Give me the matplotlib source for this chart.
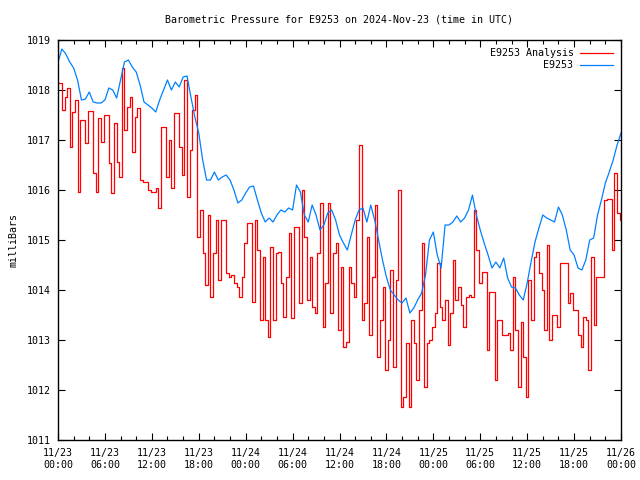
import numpy as np
import matplotlib
matplotlib.use("Agg")
import matplotlib.pyplot as plt
from matplotlib.ticker import MultipleLocator

title = "Barometric Pressure for E9253 on 2024-Nov-23 (time in UTC)"
ylabel = "milliBars"
series_names = ["E9253 Analysis", "E9253"]
tick_labels = ["11/23\n00:00", "11/23\n06:00", "11/23\n12:00", "11/23\n18:00",
               "11/24\n00:00", "11/24\n06:00", "11/24\n12:00", "11/24\n18:00",
               "11/25\n00:00", "11/25\n06:00", "11/25\n12:00", "11/25\n18:00",
               "11/26\n00:00"]

# station pressure, one value every 30 minutes (mb)
station = [
    1018.56, 1018.82, 1018.72, 1018.56, 1018.44, 1018.20, 1017.80, 1017.82,
    1017.96, 1017.76, 1017.74, 1017.74, 1017.80, 1018.04, 1018.00, 1017.84,
    1018.20, 1018.56, 1018.60, 1018.46, 1018.36, 1018.10, 1017.76, 1017.70,
    1017.64, 1017.56, 1017.80, 1018.00, 1018.20, 1018.00, 1018.16, 1018.06,
    1018.26, 1018.28, 1017.86, 1017.46, 1017.14, 1016.60, 1016.20, 1016.20,
    1016.36, 1016.20, 1016.26, 1016.30, 1016.20, 1016.00, 1015.74, 1015.80,
    1015.94, 1016.06, 1016.08, 1015.80, 1015.54, 1015.36, 1015.44, 1015.36,
    1015.50, 1015.60, 1015.56, 1015.64, 1015.60, 1016.10, 1015.96, 1015.50,
    1015.36, 1015.70, 1015.50, 1015.20, 1015.30, 1015.54, 1015.60, 1015.40,
    1015.10, 1014.94, 1014.80, 1015.10, 1015.40, 1015.60, 1015.64, 1015.36,
    1015.70, 1015.40, 1015.00, 1014.60, 1014.26, 1014.00, 1013.90, 1013.80,
    1013.74, 1013.84, 1013.54, 1013.64, 1013.80, 1013.94, 1014.30, 1015.00,
    1015.16, 1014.70, 1014.44, 1015.30, 1015.30, 1015.36, 1015.48, 1015.36,
    1015.44, 1015.60, 1015.90, 1015.50, 1015.20, 1014.94, 1014.70, 1014.44,
    1014.56, 1014.44, 1014.64, 1014.24, 1014.06, 1014.04, 1013.90, 1013.80,
    1014.14, 1014.56, 1014.96, 1015.24, 1015.50, 1015.44, 1015.40, 1015.36,
    1015.66, 1015.50, 1015.20, 1014.80, 1014.70, 1014.44, 1014.40, 1014.60,
    1015.00, 1015.04, 1015.50, 1015.80, 1016.14, 1016.36, 1016.60, 1016.90,
    1017.14,
]

# analysis pressure, one value every 20 minutes (mb)
analysis = [
    1018.14, 1018.14, 1017.60, 1017.86, 1018.04, 1016.86, 1017.56, 1017.80,
    1015.96, 1017.40, 1017.40, 1016.94, 1017.58, 1017.58, 1016.34, 1015.96,
    1017.44, 1016.96, 1017.50, 1017.50, 1016.54, 1015.94, 1017.34, 1016.56,
    1016.26, 1018.45, 1017.20, 1017.66, 1017.86, 1016.76, 1017.46, 1017.64,
    1016.20, 1016.16, 1016.16, 1016.00, 1015.96, 1015.96, 1016.04, 1015.64,
    1017.26, 1017.26, 1016.26, 1017.00, 1016.04, 1017.54, 1017.54, 1016.86,
    1016.30, 1018.20, 1015.86, 1016.80, 1017.60, 1017.90, 1015.06, 1015.60,
    1014.74, 1014.10, 1015.50, 1013.86, 1014.74, 1015.40, 1014.20, 1015.40,
    1015.40, 1014.34, 1014.26, 1014.30, 1014.14, 1014.06, 1013.86, 1014.26,
    1014.94, 1015.34, 1015.34, 1013.76, 1015.40, 1014.80, 1013.40, 1014.66,
    1013.40, 1013.06, 1014.86, 1013.40, 1014.74, 1014.76, 1014.14, 1013.46,
    1014.26, 1015.14, 1013.44, 1015.26, 1015.26, 1013.74, 1016.00, 1015.06,
    1013.80, 1014.66, 1013.66, 1013.54, 1014.74, 1015.74, 1013.26, 1014.14,
    1015.74, 1013.54, 1014.74, 1014.94, 1013.20, 1014.46, 1012.86, 1012.96,
    1014.46, 1014.14, 1013.86, 1015.40, 1016.90, 1013.40, 1013.74, 1015.06,
    1013.10, 1014.26, 1015.70, 1012.66, 1013.40, 1014.06, 1012.40, 1013.00,
    1014.40, 1012.46, 1014.20, 1016.00, 1011.66, 1011.86, 1012.94, 1011.66,
    1013.40, 1012.94, 1012.20, 1013.60, 1014.94, 1012.06, 1012.94, 1013.00,
    1013.26, 1013.54, 1014.54, 1013.66, 1013.40, 1013.80, 1012.90, 1013.54,
    1014.60, 1013.80, 1014.06, 1013.70, 1013.26, 1013.86, 1013.90, 1013.86,
    1015.60, 1014.80, 1014.14, 1014.36, 1014.36, 1012.80, 1013.96, 1013.96,
    1012.20, 1013.40, 1013.40, 1013.10, 1013.10, 1013.14, 1012.80, 1014.26,
    1013.20, 1012.06, 1013.36, 1012.66, 1011.86, 1014.20, 1013.40, 1014.66,
    1014.76, 1014.34, 1014.00, 1013.20, 1014.90, 1013.00, 1013.50, 1013.50,
    1013.26, 1014.54, 1014.54, 1014.54, 1013.74, 1013.94, 1013.60, 1013.60,
    1013.10, 1012.86, 1013.46, 1013.40, 1012.40, 1014.66, 1013.30, 1014.26,
    1014.26, 1014.26, 1015.80, 1015.82, 1015.82, 1014.80, 1016.34, 1015.54,
    1015.40,
]

t_station = np.arange(len(station)) * 0.5
t_analysis = np.arange(len(analysis)) / 3.0

plt.rcParams['font.family'] = ['DejaVu Sans Mono']
plt.rcParams['font.size'] = 7.2

fig = plt.figure(figsize=(6.4, 4.8), dpi=100)
ax = fig.add_axes([58 / 640, 40 / 480, (621 - 58) / 640, 400 / 480])

ax.plot(t_analysis, analysis, color='#ff0000', lw=0.9, drawstyle='steps-mid',
        label=series_names[0])
ax.plot(t_station, station, color='#0080ff', lw=0.9, label=series_names[1])

ax.set_xlim(0, 72)
ax.set_ylim(1011, 1019)
ax.set_xticks(np.arange(0, 73, 6))
ax.set_xticklabels(tick_labels)
ax.xaxis.set_minor_locator(MultipleLocator(2))
ax.set_yticks(np.arange(1011, 1020, 1))
ax.tick_params(which='both', direction='in', top=True, right=True, colors='black')
ax.tick_params(which='major', length=5, width=0.8, pad=5)
ax.tick_params(which='minor', length=3, width=0.8)
ax.tick_params(axis='x', which='major', pad=6)
for s in ax.spines.values():
    s.set_linewidth(1.0)

ax.set_ylabel(ylabel, labelpad=6)
fig.text(339 / 640, 1 - 19 / 480, title, ha='center', va='center')

leg = ax.legend(loc='upper right', frameon=False, handlelength=3.3,
                handletextpad=0.6, borderaxespad=0.45, labelspacing=0.2,
                markerfirst=False)
for txt in leg.get_texts():
    txt.set_ha('right')

fig.savefig('out.png', dpi=100)
